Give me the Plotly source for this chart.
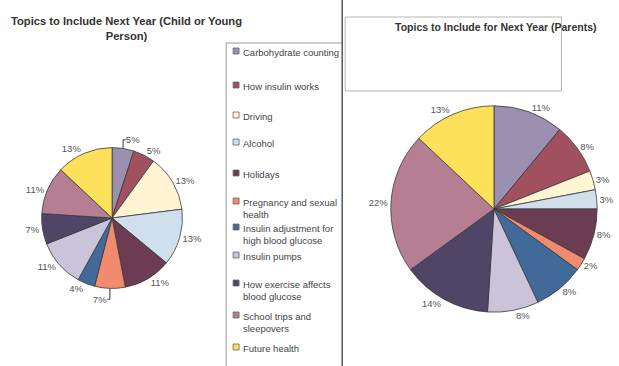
import plotly.graph_objects as go

categories = ["Carbohydrate counting", "How insulin works", "Driving", "Alcohol", "Holidays",
              "Pregnancy and sexual health", "Insulin adjustment for high blood glucose",
              "Insulin pumps", "How exercise affects blood glucose", "School trips and sleepovers",
              "Future health"]
legend_labels = ["Carbohydrate counting", "How insulin works", "Driving", "Alcohol", "Holidays",
                 "Pregnancy and sexual<br>health", "Insulin adjustment for<br>high blood glucose",
                 "Insulin pumps", "How exercise affects<br>blood glucose", "School trips and<br>sleepovers",
                 "Future health"]
child_values = [5, 5, 13, 13, 11, 7, 4, 11, 7, 11, 13]
parent_values = [11, 8, 3, 3, 8, 2, 8, 8, 14, 22, 13]
colors = ["#9c90b0", "#a0505e", "#fff5d2", "#cfe0ec", "#6c3c52", "#f08b6e", "#41699a",
          "#cbc3d9", "#4f4566", "#b67e93", "#fde15a"]

W, H = 619, 366
def px(x): return x / W
def py(y): return 1 - y / H

fig = go.Figure()
common = dict(sort=False, direction="clockwise", rotation=0, textposition="outside",
              texttemplate="%{value}%", showlegend=False, hoverinfo="label+value",
              marker=dict(colors=colors, line=dict(color="#3a3a3a", width=0.8)),
              textfont=dict(family="Arial, Liberation Sans, sans-serif", size=9.5, color="#555555"))
fig.add_trace(go.Pie(labels=categories, values=child_values,
                     domain=dict(x=[px(42), px(184)], y=[py(291), py(145)]), **common))
fig.add_trace(go.Pie(labels=categories, values=parent_values,
                     domain=dict(x=[px(394), px(602)], y=[py(314), py(104)]), **common))

shapes = []
annotations = []
font_t = dict(family="Arial, Liberation Sans, sans-serif", size=11.2, color="#333333")
annotations.append(dict(x=px(128), y=py(29), xref="paper", yref="paper", showarrow=False,
                        text="<b>Topics to Include Next Year (Child or Young<br>Person)</b>",
                        font=font_t, xanchor="center", yanchor="middle", align="center"))
annotations.append(dict(x=px(500), y=py(27), xref="paper", yref="paper", showarrow=False,
                        text="<b>Topics to Include for Next Year (Parents)</b>",
                        font=dict(family="Arial, Liberation Sans, sans-serif", size=10.5, color="#333333"),
                        xanchor="center", yanchor="middle"))

# legend box and divider
line_gray = dict(color="#9a9a9a", width=1)
shapes.append(dict(type="line", xref="paper", yref="paper", x0=px(228), x1=px(228), y0=py(43), y1=0, line=line_gray))
shapes.append(dict(type="line", xref="paper", yref="paper", x0=px(228), x1=px(345), y0=py(43), y1=py(43), line=line_gray))
shapes.append(dict(type="line", xref="paper", yref="paper", x0=px(345), x1=px(345), y0=1, y1=0,
                   line=dict(color="#555555", width=1.5)))
# right plot-area box
shapes.append(dict(type="rect", xref="paper", yref="paper", x0=px(348), x1=px(566), y0=py(91), y1=py(17),
                   line=dict(color="#b5b5b5", width=1)))

legend_y = [51, 85, 115, 142, 173, 201, 227, 255, 283, 315, 347]
for lab, col, yy in zip(legend_labels, colors, legend_y):
    shapes.append(dict(type="rect", xref="paper", yref="paper", x0=px(235), x1=px(241),
                       y0=py(yy + 3), y1=py(yy - 3), fillcolor=col, line=dict(color="#666666", width=0.8)))
    annotations.append(dict(x=px(243), y=py(yy - 6), xref="paper", yref="paper", showarrow=False,
                            text=lab, xanchor="left", yanchor="top", align="left",
                            font=dict(family="Arial, Liberation Sans, sans-serif", size=9.5, color="#444444")))

fig.update_layout(width=W, height=H, margin=dict(l=0, r=0, t=0, b=0),
                  paper_bgcolor="white", plot_bgcolor="white",
                  shapes=shapes, annotations=annotations, showlegend=False)
fig.write_html("out.html", config={"displayModeBar": False},
               post_script="document.body.style.margin='0';document.body.style.overflow='hidden';")
